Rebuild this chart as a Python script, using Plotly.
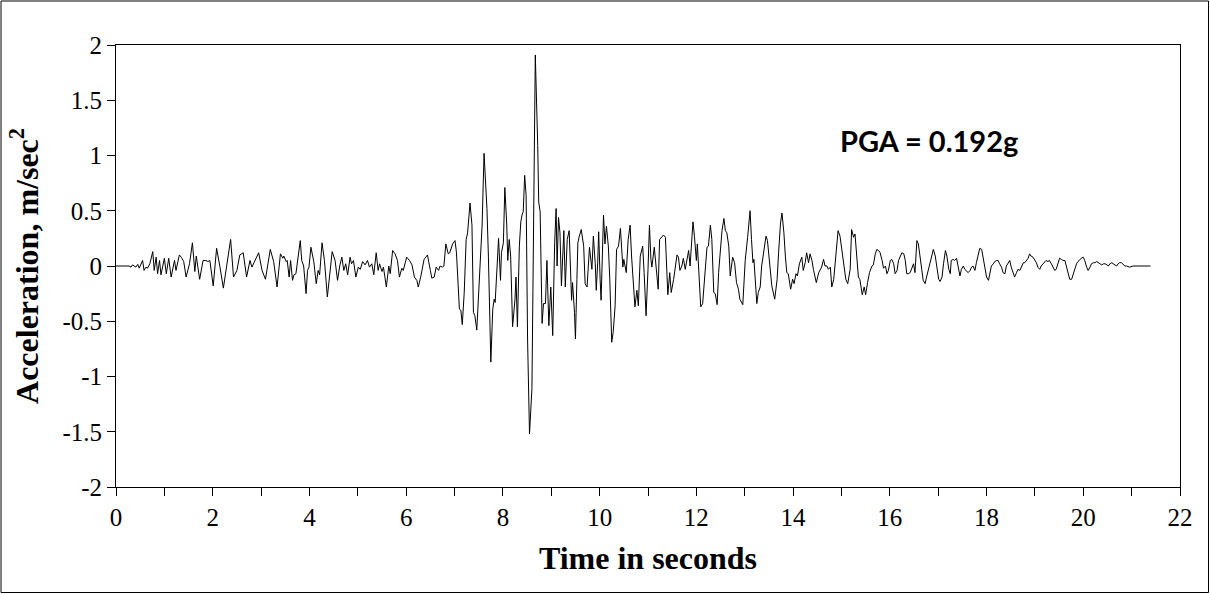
import plotly.graph_objects as go

# Time (s) and acceleration (m/sec^2)
time_s = [
    0.00, 0.27, 0.31, 0.34, 0.41, 0.45, 0.48, 0.55, 0.58, 0.62, 0.65, 0.70, 0.76, 0.79, 0.83, 0.86, 0.90, 0.93,
    1.00, 1.04, 1.09, 1.14, 1.21, 1.24, 1.31, 1.35, 1.40, 1.45, 1.52, 1.58, 1.63, 1.66, 1.73, 1.80, 1.86, 1.90,
    1.94, 2.01, 2.08, 2.11, 2.15, 2.22, 2.29, 2.37, 2.43, 2.50, 2.56, 2.63, 2.70, 2.77, 2.81, 2.88, 2.95, 3.02,
    3.09, 3.19, 3.26, 3.33,
    3.40, 3.45, 3.47, 3.52, 3.54, 3.58, 3.61, 3.65, 3.68, 3.72, 3.75, 3.81, 3.84, 3.88, 3.93, 3.96, 3.99, 4.03,
    4.09, 4.14, 4.18, 4.21, 4.26, 4.31, 4.37, 4.42, 4.47, 4.53, 4.58, 4.63, 4.67, 4.71, 4.75, 4.79, 4.84, 4.87,
    4.91, 4.96, 5.01, 5.05, 5.10, 5.15, 5.20, 5.24, 5.29, 5.33, 5.38, 5.42, 5.45, 5.50, 5.53, 5.59, 5.64, 5.67,
    5.72, 5.77, 5.82, 5.86, 5.91, 5.94, 6.01, 6.07, 6.12, 6.17, 6.22, 6.25, 6.30, 6.37, 6.44, 6.50, 6.53, 6.58,
    6.62, 6.67,
    6.70, 6.75, 6.78, 6.82, 6.87, 6.90, 6.96, 7.01, 7.04, 7.10, 7.13, 7.16, 7.20, 7.24, 7.27, 7.32, 7.36, 7.39,
    7.42, 7.46, 7.52, 7.57, 7.61, 7.67, 7.70, 7.75, 7.79, 7.82, 7.84, 7.88, 7.91, 7.95, 7.97, 8.01, 8.04, 8.08,
    8.10, 8.13, 8.16, 8.20, 8.25, 8.27, 8.30, 8.34, 8.37, 8.40, 8.42, 8.45, 8.48, 8.51, 8.55, 8.60, 8.63, 8.67,
    8.72, 8.74, 8.77, 8.81, 8.84, 8.88, 8.91, 8.95, 8.99, 9.03, 9.07, 9.10, 9.12, 9.15, 9.18, 9.21, 9.26, 9.29,
    9.33, 9.37, 9.42, 9.44, 9.48, 9.50, 9.53, 9.55, 9.58, 9.62,
    9.67, 9.70, 9.74, 9.77, 9.79, 9.84, 9.87, 9.91, 9.93, 9.96, 9.98, 10.01, 10.03, 10.08, 10.11, 10.14, 10.18,
    10.21, 10.25, 10.28, 10.32, 10.35, 10.39, 10.43, 10.48, 10.50, 10.55, 10.59, 10.63, 10.66, 10.70, 10.73,
    10.77, 10.80, 10.84, 10.89, 10.92, 10.96, 11.00, 11.03, 11.06, 11.08, 11.13, 11.17, 11.21, 11.24, 11.29,
    11.32, 11.36, 11.41, 11.45, 11.48, 11.53, 11.57, 11.60, 11.63, 11.66, 11.70, 11.73, 11.77, 11.80, 11.84,
    11.87, 11.93, 11.96, 12.00, 12.02, 12.06, 12.09, 12.13, 12.18, 12.22, 12.25, 12.29, 12.32, 12.36, 12.39,
    12.43, 12.46, 12.50, 12.53, 12.57, 12.60, 12.63, 12.67, 12.70, 12.75, 12.79, 12.83, 12.87, 12.90, 12.96,
    13.01, 13.06, 13.11,
    13.14, 13.17, 13.19, 13.21, 13.25, 13.28, 13.32, 13.35, 13.39, 13.44, 13.47, 13.51, 13.56, 13.62, 13.67,
    13.70, 13.74, 13.77, 13.81, 13.84, 13.87, 13.90, 13.95, 13.99, 14.02, 14.06, 14.09, 14.13, 14.18, 14.21,
    14.25, 14.28, 14.32, 14.35, 14.39, 14.42, 14.48, 14.53, 14.56, 14.59, 14.63, 14.66, 14.70, 14.73, 14.77,
    14.80, 14.84, 14.87, 14.91, 14.93, 14.97, 15.00, 15.04, 15.09, 15.13, 15.18, 15.21, 15.25, 15.28, 15.31,
    15.35, 15.38, 15.43, 15.47, 15.50, 15.54, 15.58, 15.63, 15.66, 15.70, 15.73, 15.77, 15.80, 15.84, 15.87,
    15.91, 15.94, 15.97, 16.01, 16.04, 16.08, 16.11, 16.15, 16.18, 16.22, 16.25, 16.29, 16.32, 16.35, 16.38,
    16.42, 16.45, 16.49, 16.52, 16.56, 16.59, 16.63, 16.66, 16.69, 16.73, 16.76, 16.80, 16.83, 16.87, 16.90,
    16.94, 16.97, 17.01, 17.04, 17.08, 17.11, 17.15, 17.18, 17.22, 17.25,
    17.27, 17.31, 17.34, 17.38, 17.41, 17.45, 17.48, 17.52, 17.55, 17.59, 17.62, 17.66, 17.69, 17.72, 17.76,
    17.79, 17.83, 17.86, 17.90, 17.93, 17.97, 18.00, 18.04, 18.07, 18.10, 18.14, 18.17, 18.21, 18.24, 18.27,
    18.31, 18.34, 18.38, 18.41, 18.45, 18.48, 18.51, 18.55, 18.58, 18.62, 18.65, 18.69, 18.72, 18.76, 18.79,
    18.83, 18.86, 18.89, 18.92, 18.96, 18.99, 19.03, 19.06, 19.10, 19.13, 19.17, 19.20, 19.23, 19.27, 19.30,
    19.34, 19.37, 19.41, 19.44, 19.48, 19.51, 19.55, 19.58, 19.62, 19.65, 19.69, 19.72, 19.76, 19.79, 19.83,
    19.86, 19.89, 19.93, 19.96, 20.00, 20.03, 20.07, 20.10, 20.14, 20.17, 20.21, 20.24, 20.28, 20.31, 20.35,
    20.38, 20.42, 20.45, 20.49, 20.52, 20.55, 20.59, 20.62, 20.66, 20.69, 20.72, 20.75, 20.79, 20.82, 20.86,
    20.89, 20.93, 20.96, 21.03, 21.39,
]

accel = [
    0.00, 0.00, -0.01, 0.01, -0.01, 0.015, -0.02, 0.05, -0.04, -0.01, -0.02, 0.02, 0.13, -0.04, 0.08, -0.07, 0.05, -0.08,
    0.07, -0.07, 0.07, -0.10, 0.05, -0.04, 0.10, 0.08, 0.04, -0.10, 0.02, 0.21, -0.05, 0.09, -0.12, 0.05, 0.05, 0.04,
    0.05, -0.18, 0.16, 0.10, -0.01, -0.20, -0.01, 0.24, -0.10, -0.04, 0.10, 0.12, -0.10, 0.05, -0.01, 0.05, 0.12, -0.04,
    -0.12, 0.15, 0.04, -0.19,
    0.11, 0.07, 0.09, 0.04, 0.05, -0.10, 0.05, -0.13, -0.08, -0.07, 0.02, 0.23, 0.05, 0.00, -0.25, -0.04, -0.01, 0.17,
    0.04, -0.16, -0.04, -0.08, 0.21, 0.05, -0.28, -0.04, 0.13, 0.05, -0.13, 0.01, 0.08, -0.04, 0.02, -0.08, 0.08, 0.02,
    0.05, -0.10, -0.01, -0.03, 0.04, 0.01, 0.05, -0.01, 0.02, -0.08, 0.12, -0.04, 0.02, -0.05, -0.01, -0.19, 0.00, -0.07,
    0.14, 0.11, 0.05, -0.10, -0.02, -0.04, 0.08, 0.05, 0.01, -0.10, -0.13, -0.19, -0.10, 0.06, 0.10, -0.04, -0.11, -0.10,
    -0.01, -0.04,
    0.00, -0.01, 0.00, 0.20, 0.11, 0.12, 0.20, 0.23, 0.12, -0.39, -0.40, -0.53, -0.24, 0.24, 0.30, 0.57, 0.37, -0.42,
    -0.45, -0.58, -0.06, 0.37, 1.02, 0.52, 0.09, -0.87, -0.39, -0.30, -0.33, -0.03, 0.25, -0.13, 0.12, 0.21, 0.71, 0.37,
    0.05, 0.24, 0.09, -0.55, -0.30, -0.10, -0.55, 0.18, 0.40, 0.47, 0.49, 0.82, 0.64, -0.66, -1.52, -1.11, 0.55, 1.91,
    1.09, 0.58, 0.49, -0.52, -0.34, -0.34, 0.05, -0.54, -0.19, -0.63, 0.21, 0.52, 0.00, 0.44, 0.30, -0.18, 0.32, -0.19,
    0.24, 0.32, -0.31, -0.15, -0.42, -0.66, -0.12, 0.21, 0.27, 0.33,
    0.18, -0.16, -0.19, 0.03, 0.17, -0.03, 0.27, 0.02, -0.22, 0.03, 0.31, -0.12, -0.31, 0.46, 0.20, 0.36, 0.18,
    -0.12, -0.69, -0.60, -0.36, 0.15, 0.18, 0.34, -0.01, 0.06, -0.06, 0.24, 0.37, 0.09, -0.18, -0.37,
    -0.22, -0.36, 0.09, 0.18, -0.06, -0.45, -0.03, 0.37, 0.06, -0.01, 0.17, -0.04, -0.21, 0.24, 0.26,
    0.28, 0.26, -0.26, -0.06, -0.24, -0.12, 0.00, 0.10, 0.08, -0.04, 0.00, 0.07, -0.03, 0.03, 0.14,
    0.00, 0.40, 0.27, 0.05, 0.20, -0.12, -0.37, -0.34, -0.06, 0.17, 0.18, 0.37, 0.24, -0.24, -0.25,
    -0.35, -0.06, 0.14, 0.32, 0.43, 0.32, 0.30, 0.18, -0.09, 0.08, 0.03, -0.15, -0.21, -0.30, -0.35,
    0.05, 0.26, 0.50,
    0.24, 0.03, 0.06, -0.09, -0.34, -0.24, -0.19, 0.00, 0.14, 0.27, 0.23, 0.03, -0.18, -0.30, -0.12,
    0.12, 0.39, 0.48, 0.30, 0.09, -0.06, -0.07, -0.21, -0.12, -0.16, -0.07, -0.09, 0.02, 0.08, -0.04,
    0.03, 0.12, 0.03, 0.11, 0.05, -0.03, -0.15, -0.06, -0.03, -0.01, 0.06, 0.00, 0.00, -0.03, -0.01,
    -0.19, -0.12, 0.03, 0.20, 0.32, 0.27, 0.17, 0.03, -0.12, -0.16, -0.03, 0.33, 0.26, 0.29, 0.09,
    -0.10, -0.12, -0.26, -0.19, -0.26, -0.15, -0.06, 0.00, 0.01, 0.11, 0.15, 0.14, 0.12, 0.05, -0.02,
    0.00, -0.07, -0.04, 0.05, 0.06, 0.02, -0.07, -0.04, 0.05, 0.09, 0.12, 0.11, 0.05, -0.07, -0.07,
    -0.06, -0.03, 0.02, -0.06, 0.23, 0.20, 0.09, -0.03, -0.13, -0.16, -0.10, -0.03, 0.03, 0.11, 0.15,
    0.09, -0.01, -0.12, -0.14, -0.10, 0.02, 0.14, 0.09, -0.03, -0.07,
    0.05, 0.06, 0.05, 0.07, 0.00, -0.09, -0.03, 0.00, -0.03, -0.05, -0.06, -0.04, -0.01, 0.00, -0.04,
    0.03, 0.11, 0.16, 0.15, 0.08, -0.03, -0.10, -0.13, -0.07, 0.00, 0.02, 0.04, 0.05, 0.05, 0.02,
    -0.01, -0.06, -0.07, 0.00, 0.03, 0.05, -0.01, -0.07, -0.10, -0.06, -0.03, -0.04, -0.01, 0.03, 0.03,
    0.05, 0.07, 0.11, 0.09, 0.08, 0.06, 0.03, -0.01, -0.03, 0.00, 0.02, 0.03, 0.05, 0.04, 0.05,
    0.02, -0.01, -0.04, -0.03, 0.02, 0.07, 0.06, 0.05, 0.05, 0.00, -0.07, -0.12, -0.12, -0.07, -0.01,
    0.02, 0.04, 0.06, 0.07, 0.08, 0.05, -0.01, -0.04, -0.01, 0.02, 0.03, 0.03, 0.04, 0.03, 0.02,
    0.01, 0.02, 0.02, 0.01, 0.00, 0.02, 0.03, 0.02, 0.01, 0.00, 0.02, 0.03, 0.03, 0.02, 0.00,
    0.00, -0.01, -0.01, 0.00, 0.00,
]

x_tick_vals = [0, 2, 4, 6, 8, 10, 12, 14, 16, 18, 20, 22]
x_tick_text = ["0", "2", "4", "6", "8", "10", "12", "14", "16", "18", "20", "22"]
y_tick_vals = [-2, -1.5, -1, -0.5, 0, 0.5, 1, 1.5, 2]
y_tick_text = ["-2", "-1.5", "-1", "-0.5", "0", "0.5", "1", "1.5", "2"]

pga_label = "PGA = 0.192g"
x_title = "Time in seconds"
y_title = "Acceleration, m/sec<sup>2</sup>"

W, H = 1210, 594
ML, MR, MT, MB = 116, 30, 45, 107
pw, ph = W - ML - MR, H - MT - MB

fig = go.Figure()
fig.add_trace(go.Scatter(
    x=time_s, y=accel, mode="lines",
    line=dict(color="black", width=1),
    hoverinfo="x+y", showlegend=False,
))

serif = "Liberation Serif, Times New Roman, serif"

fig.update_layout(
    width=W, height=H,
    margin=dict(l=ML, r=MR, t=MT, b=MB, autoexpand=False),
    paper_bgcolor="white", plot_bgcolor="white",
    font=dict(family=serif, color="black", size=25),
)

fig.update_xaxes(
    range=[0, 22], tickvals=x_tick_vals, ticktext=x_tick_text,
    ticks="outside", ticklen=8, tickwidth=1, tickcolor="black",
    minor=dict(dtick=1, tick0=0, ticks="outside", ticklen=8, tickwidth=1, tickcolor="black", showgrid=False),
    showline=True, linecolor="black", linewidth=1, mirror=True,
    showgrid=False, zeroline=False,
    tickfont=dict(family=serif, size=25, color="black"),
    title=dict(text="<b>" + x_title + "</b>", font=dict(family=serif, size=32, color="black"), standoff=16),
)
fig.update_yaxes(
    range=[-2, 2], tickvals=y_tick_vals, ticktext=y_tick_text,
    ticks="outside", ticklen=8, tickwidth=1, tickcolor="black",
    showline=True, linecolor="black", linewidth=1, mirror=True,
    showgrid=False, zeroline=False,
    tickfont=dict(family=serif, size=25, color="black"),
    title=dict(text="<b>" + y_title + "</b>", font=dict(family=serif, size=32, color="black"), standoff=14),
)

fig.add_annotation(
    x=14.93, y=1.14, xref="x", yref="y", xanchor="left", yanchor="middle",
    text="<b>" + pga_label + "</b>", showarrow=False,
    font=dict(family="Lato, Open Sans, sans-serif", size=29, color="black"),
)

# outer chart-area border
fig.add_shape(
    type="rect", xref="paper", yref="paper",
    x0=-(ML - 1) / pw, x1=1 + (MR - 1.5) / pw,
    y0=-(MB - 1.5) / ph, y1=1 + (MT - 1) / ph,
    line=dict(color="black", width=1), layer="below",
)

fig.write_html("out.html")
